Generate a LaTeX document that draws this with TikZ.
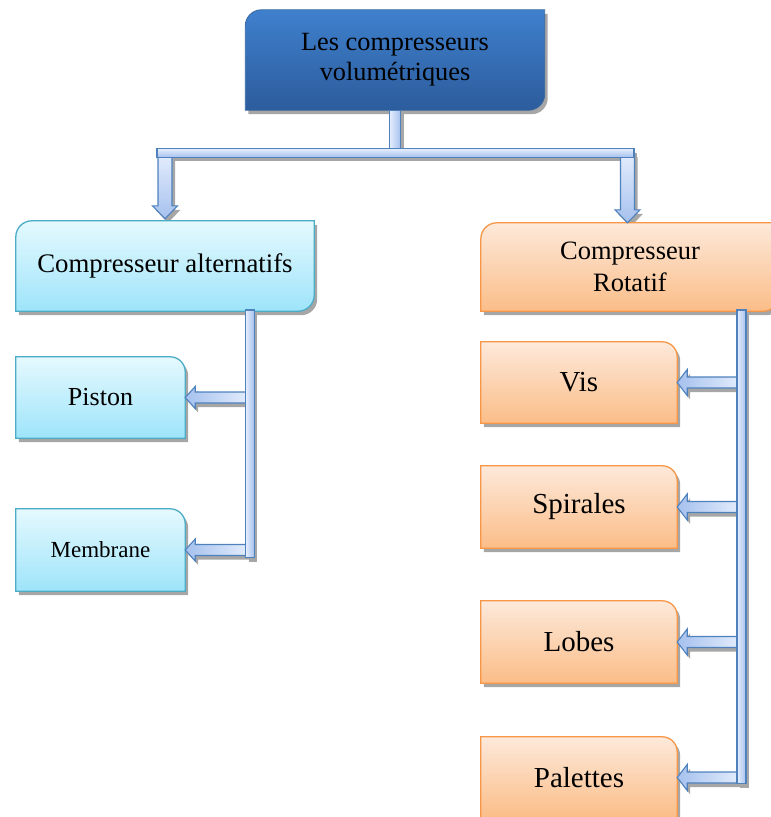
\documentclass[tikz,border=0pt]{standalone}
\usepackage{fontspec}
\setmainfont{Liberation Serif}
\usetikzlibrary{calc}

\pgfdeclarelayer{bg}
\pgfsetlayers{bg,main}

\definecolor{topA}{HTML}{3F80CD}
\definecolor{topB}{HTML}{2C5C9C}
\definecolor{topLine}{HTML}{36679F}
\definecolor{cyanA}{HTML}{E5F9FE}
\definecolor{cyanB}{HTML}{9EE4FA}
\definecolor{cyanLine}{HTML}{4BACC6}
\definecolor{orA}{HTML}{FDE9DA}
\definecolor{orB}{HTML}{FBBD88}
\definecolor{orLine}{HTML}{F79646}
\definecolor{barA}{HTML}{E4EDFC}
\definecolor{barB}{HTML}{A6C1EE}
\definecolor{barLine}{HTML}{4F81BD}
\definecolor{shadowgrey}{HTML}{A6A6A6}

\tikzset{
  txt/.style={inner sep=0pt, align=center, text=black},
  % outline with rounded top-left and bottom-right corners
  tlbr/.style={insert path={
    ([yshift=-16pt]#1.north west) .. controls ([yshift=-7.2pt]#1.north west) and ([xshift=7.2pt]#1.north west) .. ([xshift=16pt]#1.north west)
    -- (#1.north east)
    -- ([yshift=16pt]#1.south east) .. controls ([yshift=7.2pt]#1.south east) and ([xshift=-7.2pt]#1.south east) .. ([xshift=-16pt]#1.south east)
    -- (#1.south west) -- cycle}},
  % outline with a rounded top-right corner only
  trr/.style={insert path={
    (#1.south west) -- (#1.north west)
    -- ([xshift=-15pt]#1.north east) .. controls ([xshift=-6.7pt]#1.north east) and ([yshift=-6.7pt]#1.north east) .. ([yshift=-15pt]#1.north east)
    -- (#1.south east) -- cycle}},
  dropshadow/.style={fill=shadowgrey, draw=none, transform canvas={shift={(3pt,-4pt)}}},
  topcard/.style={top color=topA, bottom color=topB, draw=topLine, line width=0.8pt},
  cyancard/.style={top color=cyanA, bottom color=cyanB, draw=cyanLine, line width=1.3pt},
  orcard/.style={top color=orA, bottom color=orB, draw=orLine, line width=1.3pt},
  hbar/.style={top color=barA, bottom color=barB, draw=barLine, line width=1.1pt},
  vbar/.style={left color=barA, right color=barB, draw=barLine, line width=1.1pt},
  downblk/.style={top color=barA, bottom color=barB, draw=barLine, line width=1.1pt, line join=miter},
  leftblk/.style={left color=barB, right color=barA, draw=barLine, line width=1.1pt, line join=miter},
  % block arrow pointing down, from shaft top #1 to tip #2
  downpath/.style 2 args={insert path={
    ($(#1)+(-7,0)$) -- ($(#2)+(-7,-13)$) -- ($(#2)+(-12.5,-13)$) -- (#2)
    -- ($(#2)+(12.5,-13)$) -- ($(#2)+(7,-13)$) -- ($(#1)+(7,0)$) -- cycle}},
  % block arrow pointing left, from shaft end #1 to tip #2, head half-height #3
  leftpath/.style n args={3}{insert path={
    ($(#1)+(0,-5.5)$) -- ($(#2)+(10,-5.5)$) -- ($(#2)+(10,-#3)$) -- (#2)
    -- ($(#2)+(10,#3)$) -- ($(#2)+(10,5.5)$) -- ($(#1)+(0,5.5)$) -- cycle}},
}

\newcommand\cardshadow[2]{\path[dropshadow, #1=#2];}
\newcommand\card[3]{\path[#1, #2=#3];}

\begin{document}
\begin{tikzpicture}[x=1pt, y=-1pt]
\useasboundingbox (0,0) rectangle (771,817);

% ---- boxes and their texts
\node[txt, font=\fontsize{26.3}{30}\selectfont, minimum width=299pt, minimum height=100pt] (top) at (395,60) {Les compresseurs\\volumétriques};
\node[txt, font=\fontsize{26.8}{30}\selectfont, minimum width=298pt, minimum height=90pt] (alt) at (165,266) {Compresseur alternatifs};
\node[txt, font=\fontsize{26.5}{31.5}\selectfont, minimum width=298pt, minimum height=88pt] (rot) at (630,267) {Compresseur\\Rotatif};
\node[txt, font=\fontsize{26}{30}\selectfont, minimum width=169pt, minimum height=81pt] (pist) at (100.5,397.5) {Piston};
\node[txt, font=\fontsize{23}{27}\selectfont, minimum width=169pt, minimum height=82pt] (memb) at (100.5,550) {Membrane};
\node[txt, font=\fontsize{29}{34}\selectfont, minimum width=196pt, minimum height=81pt] (vis) at (579,382.5) {Vis};
\node[txt, font=\fontsize{29}{34}\selectfont, minimum width=196pt, minimum height=82pt] (spir) at (579,507) {Spirales};
\node[txt, font=\fontsize{29}{34}\selectfont, minimum width=196pt, minimum height=82pt] (lobe) at (579,642) {Lobes};
\node[txt, font=\fontsize{29}{34}\selectfont, minimum width=196pt, minimum height=81pt] (pal) at (579,777.5) {Palettes};

% ---- connector junctions
\coordinate (hub) at (top.south |- 0,153);
\coordinate (hubL) at (alt.north |- hub);
\coordinate (hubR) at (627.5,153);
\coordinate (tipL) at ($(alt.north)+(0,-2)$);
\coordinate (tipR) at (rot.north -| hubR);
\coordinate (lbarTop) at (250,310);
\coordinate (lbarEnd) at (250,557.5);
\coordinate (rbarTop) at (741.5,310);
\coordinate (rbarEnd) at (741.5,783.5);
\coordinate (sPist) at (pist.east -| lbarTop);
\coordinate (sMemb) at (memb.east -| lbarTop);
\coordinate (sVis) at (vis.east -| rbarTop);
\coordinate (sSpir) at (spir.east -| rbarTop);
\coordinate (sLobe) at (lobe.east -| rbarTop);
\coordinate (sPal) at (pal.east -| rbarTop);

\begin{pgfonlayer}{bg}
  % shadows
  \cardshadow{tlbr}{top}
  \cardshadow{tlbr}{alt}
  \cardshadow{tlbr}{rot}
  \foreach \n in {pist,memb,vis,spir,lobe,pal} {\cardshadow{trr}{\n}}
  \path[dropshadow, downpath={hubL}{tipL}];
  \path[dropshadow, downpath={hubR}{tipR}];
  \path[dropshadow, leftpath={sPist}{pist.east}{11}];
  \path[dropshadow, leftpath={sMemb}{memb.east}{11}];
  \foreach \n/\s in {vis/sVis,spir/sSpir,lobe/sLobe,pal/sPal}
    {\path[dropshadow, leftpath={\s}{\n.east}{13}];}
  \path[dropshadow] ($(top.south)+(-5.5,0)$) rectangle ($(hub)+(5.5,0)$);
  \path[dropshadow] ($(hubL)+(-8,-4.25)$) rectangle ($(hubR)+(6.5,4.25)$);
  \path[dropshadow] ($(lbarTop)+(-4.25,0)$) rectangle ($(lbarEnd)+(4.25,0)$);
  \path[dropshadow] ($(rbarTop)+(-4.5,0)$) rectangle ($(rbarEnd)+(4.5,0)$);

  % boxes
  \card{topcard}{tlbr}{top}
  \card{cyancard}{tlbr}{alt}
  \card{orcard}{tlbr}{rot}
  \card{cyancard}{trr}{pist}
  \card{cyancard}{trr}{memb}
  \foreach \n in {vis,spir,lobe,pal} {\card{orcard}{trr}{\n}}

  % block arrows
  \path[downblk, downpath={hubL}{tipL}];
  \path[downblk, downpath={hubR}{tipR}];
  \path[leftblk, leftpath={sPist}{pist.east}{11}];
  \path[leftblk, leftpath={sMemb}{memb.east}{11}];
  \foreach \n/\s in {vis/sVis,spir/sSpir,lobe/sLobe,pal/sPal}
    {\path[leftblk, leftpath={\s}{\n.east}{13}];}

  % bars
  \path[vbar] ($(top.south)+(-5.5,0)$) rectangle ($(hub)+(5.5,0)$);
  \path[hbar] ($(hubL)+(-8,-4.25)$) rectangle ($(hubR)+(6.5,4.25)$);
  \path[vbar] ($(lbarTop)+(-4.25,0)$) rectangle ($(lbarEnd)+(4.25,0)$);
  \path[vbar] ($(rbarTop)+(-4.5,0)$) rectangle ($(rbarEnd)+(4.5,0)$);
\end{pgfonlayer}
\end{tikzpicture}
\end{document}
